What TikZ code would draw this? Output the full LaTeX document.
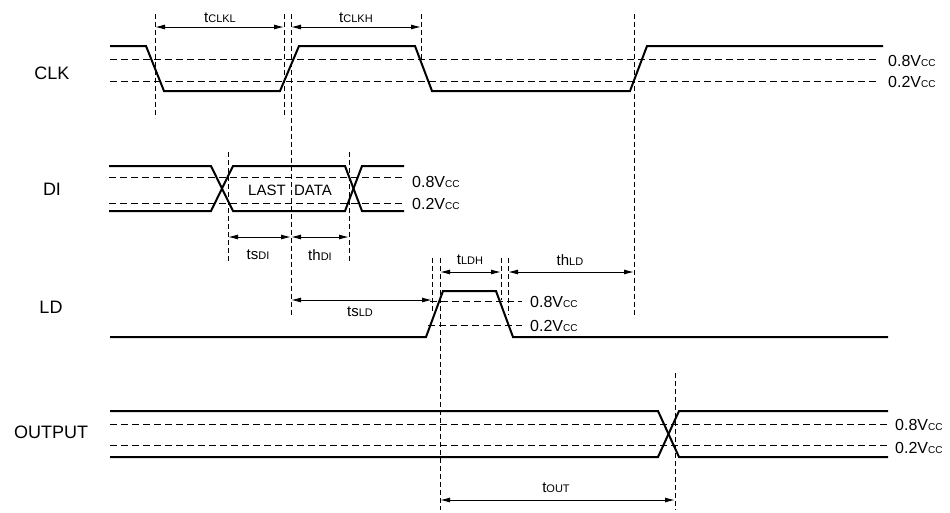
\documentclass[tikz,border=0pt]{standalone}
\usepackage{fontspec}
\setmainfont{Liberation Sans}
\usetikzlibrary{arrows.meta,positioning}
\newcommand{\vcc}[1]{#1V{\fontsize{10}{10}\selectfont CC}}
\newcommand{\tsub}[2]{#1{\fontsize{11}{11}\selectfont #2}}

\begin{document}
\begin{tikzpicture}[x=1pt, y=-1pt,
    sig/.style={line width=2pt},
    lvl/.style={line width=0.9pt, dash pattern=on 7pt off 4pt},
    guide/.style={line width=0.9pt, dash pattern=on 5pt off 3pt},
    dim/.style={line width=1pt, {Latex[length=10pt,width=5pt]}-{Latex[length=10pt,width=5pt]}},
    signame/.style={font=\fontsize{18}{20}\selectfont},
    tlabel/.style={font=\fontsize{15}{16}\selectfont, inner sep=0pt},
    vref/.style={font=\fontsize{16}{18}\selectfont, anchor=west, inner sep=0pt}]

    \useasboundingbox (0,0) rectangle (950,512);

    % signal names
    \node[signame] (clk) at (52,73) {CLK};
    \node[signame] (di) at (52,189) {DI};
    \node[signame] (ld) at (51,307) {LD};
    \node[signame] (out) at (51,432) {OUTPUT};

    % CLK
    \draw[lvl] (110,59) -- (878,59);
    \draw[lvl] (110,81) -- (878,81);
    \draw[sig] (110,46) -- (146,46) -- (164,91) -- (280,91) -- (299,46) -- (415,46)
        -- (432,91) -- (630,91) -- (647,46) -- (883,46);
    \draw[line width=2.8pt] (198,91) -- (213,91);
    \node[vref] (clkhi) at (888,61) {\vcc{0.8}};
    \node[vref] (clklo) at (888,82) {\vcc{0.2}};

    % DI
    \draw[lvl] (109,177) -- (405,177);
    \draw[lvl] (109,203) -- (405,203);
    \draw[sig] (109,166) -- (211,166) -- (233,211) -- (345,211) -- (362,166) -- (404,166);
    \draw[sig] (109,211) -- (211,211) -- (233,166) -- (345,166) -- (362,211) -- (404,211);
    \node[tlabel] (data) at (290,190) {LAST\ \ DATA};
    \node[vref] (dihi) at (412,182) {\vcc{0.8}};
    \node[vref] (dilo) at (412,204) {\vcc{0.2}};

    % LD
    \draw[lvl] (430,301) -- (522,301);
    \draw[lvl] (428,325) -- (522,325);
    \draw[sig] (110,337) -- (426,337) -- (443,291) -- (496,291) -- (513,337) -- (888,337);
    \node[vref] (ldhi) at (530,302) {\vcc{0.8}};
    \node[vref] (ldlo) at (530,326) {\vcc{0.2}};

    % OUTPUT
    \draw[lvl] (110,424) -- (888,424);
    \draw[lvl] (110,445) -- (888,445);
    \draw[sig] (110,411) -- (658,411) -- (679,457) -- (888,457);
    \draw[sig] (110,457) -- (658,457) -- (679,411) -- (888,411);
    \node[vref] (outhi) at (895,425) {\vcc{0.8}};
    \node[vref] (outlo) at (895,448) {\vcc{0.2}};

    % guide lines
    \draw[guide] (155,14) -- (155,118);
    \draw[guide] (284,14) -- (284,118);
    \draw[guide] (291,14) -- (291,315);
    \draw[guide] (421,14) -- (421,62);
    \draw[guide] (634,14) -- (634,315);
    \draw[guide] (228,152) -- (228,262);
    \draw[guide] (349,152) -- (349,262);
    \draw[guide] (432,258) -- (432,313);
    \draw[guide] (440,258) -- (440,510);
    \draw[guide] (501,258) -- (501,300);
    \draw[guide] (508,258) -- (508,315);
    \draw[guide] (675,373) -- (675,510);

    % timing arrows
    \draw[dim] (155,27) -- (284,27);
    \draw[dim] (291,27) -- (421,27);
    \draw[dim] (228,237) -- (291,237);
    \draw[dim] (291,237) -- (349,237);
    \draw[dim] (291,300) -- (432,300);
    \draw[dim] (440,272) -- (501,272);
    \draw[dim] (508,272) -- (634,272);
    \draw[dim] (440,500) -- (675,500);

    \node[tlabel] (tclkl) at (220,18) {\tsub{t}{CLKL}};
    \node[tlabel] (tclkh) at (356,18) {\tsub{t}{CLKH}};
    \node[tlabel] (tsdi) at (258,255) {\tsub{ts}{DI}};
    \node[tlabel] (thdi) at (320,255) {\tsub{th}{DI}};
    \node[tlabel] (tsld) at (360,312) {\tsub{ts}{LD}};
    \node[tlabel] (tldh) at (470,260) {\tsub{t}{LDH}};
    \node[tlabel] (thld) at (570,260) {\tsub{th}{LD}};
    \node[tlabel] (tout) at (556,488) {\tsub{t}{OUT}};
\end{tikzpicture}
\end{document}
